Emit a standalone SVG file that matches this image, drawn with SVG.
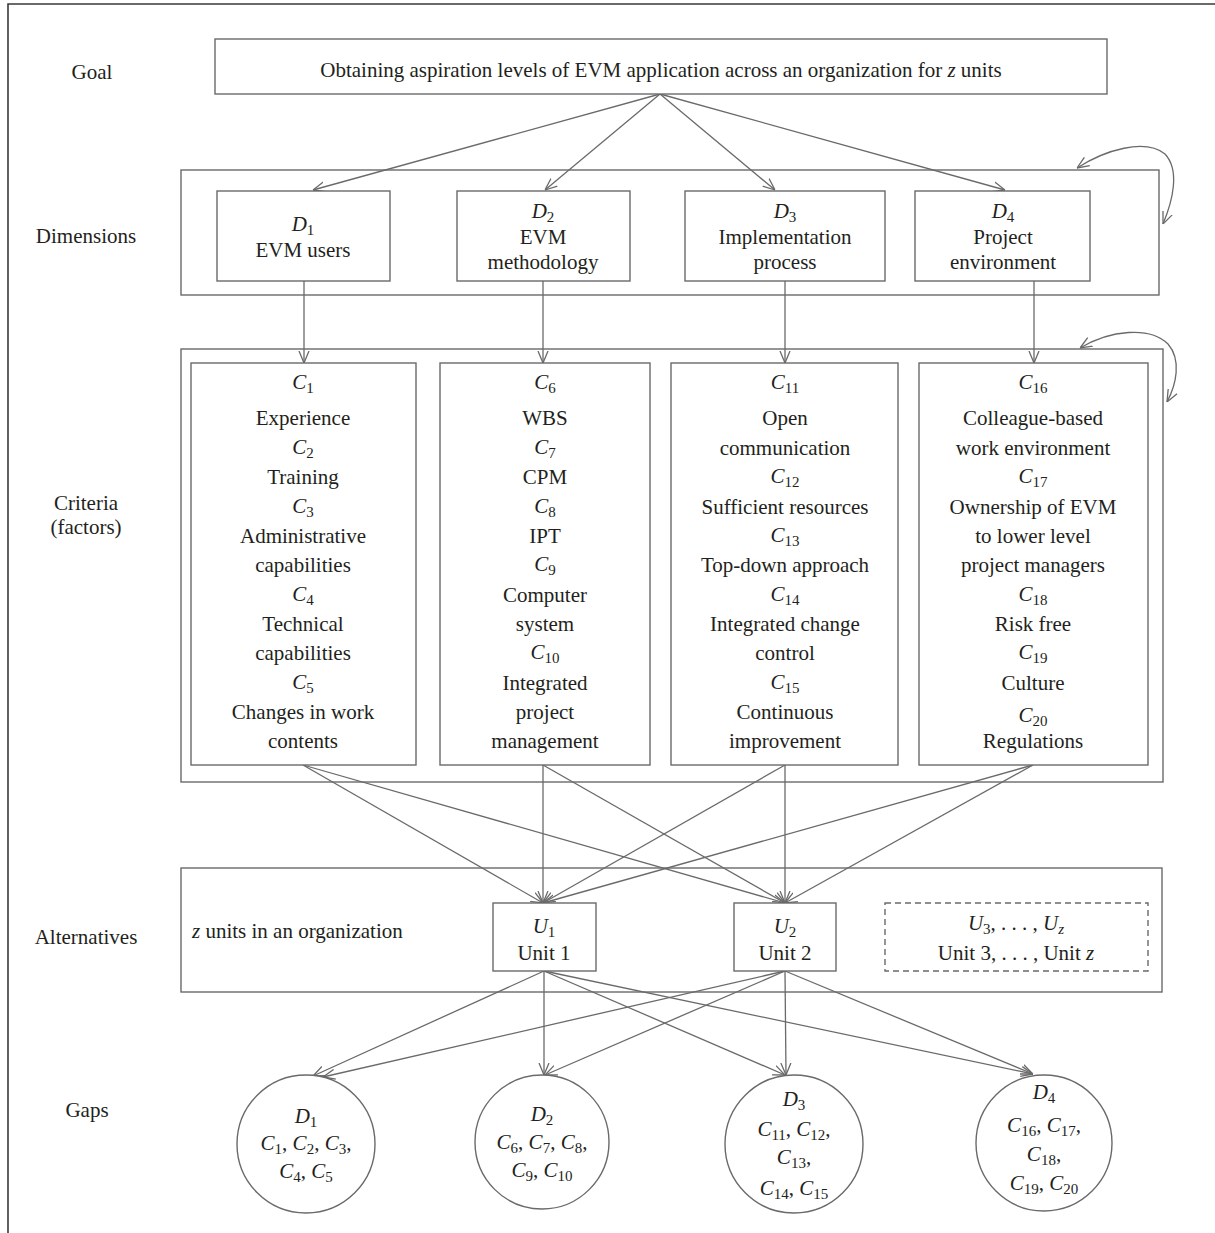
<svg xmlns="http://www.w3.org/2000/svg" width="1215" height="1233" viewBox="0 0 1215 1233">
<style>
text{font-family:"Liberation Serif","Times New Roman",serif;font-size:21px;fill:#231f20;text-anchor:middle}
.l{text-anchor:start}
.i{font-style:italic}
.s{font-size:15px}
.b{fill:#fff;stroke:#6a6a6a;stroke-width:1.4}
.n{fill:none;stroke:#6a6a6a;stroke-width:1.4}
.c{fill:none;stroke:#6a6a6a;stroke-width:1.3;marker-end:url(#ah)}
</style>
<defs>
<marker id="ah" viewBox="0 0 12 12" refX="12" refY="6" markerWidth="12" markerHeight="12" markerUnits="userSpaceOnUse" orient="auto-start-reverse">
<path d="M0,1 L12,6 L0,11" fill="none" stroke="#6a6a6a" stroke-width="1.3"/>
</marker>
</defs>
<rect width="1215" height="1233" fill="#fff"/>
<path d="M8,1233 V4 H1215" fill="none" stroke="#3a3a3a" stroke-width="1.6"/>

<g id="labels">
<text x="92" y="79">Goal</text>
<text x="86" y="243">Dimensions</text>
<text x="86" y="510">Criteria</text>
<text x="86" y="534">(factors)</text>
<text x="86" y="944">Alternatives</text>
<text x="87" y="1117">Gaps</text>
</g>

<g id="containers">
<rect class="n" x="181" y="170" width="978" height="125"/>
<rect class="n" x="181" y="349" width="982" height="433"/>
<rect class="n" x="181" y="868" width="981" height="124"/>
</g>

<g id="connectors">
<path class="c" d="M660,94 L313,190"/>
<path class="c" d="M660,94 L545,190"/>
<path class="c" d="M660,94 L775,190"/>
<path class="c" d="M660,94 L1005,190"/>
<path class="c" style="marker-start:url(#ah)" d="M1077,168 C1105,150 1145,138 1165,154 C1180,170 1173,200 1163,224"/>
<path class="c" style="marker-start:url(#ah)" d="M1080,348 C1110,330 1150,326 1168,344 C1182,360 1176,385 1167,402"/>
<path class="c" d="M304,281 V363"/>
<path class="c" d="M543,281 V363"/>
<path class="c" d="M785,281 V363"/>
<path class="c" d="M1034,281 V363"/>
<path class="c" d="M303,765 L543,903"/>
<path class="c" d="M303,765 L785,903"/>
<path class="c" d="M543,765 L543,903"/>
<path class="c" d="M543,765 L785,903"/>
<path class="c" d="M785,765 L785,903"/>
<path class="c" d="M785,765 L543,903"/>
<path class="c" d="M1033,765 L543,903"/>
<path class="c" d="M1033,765 L785,903"/>
<path class="c" d="M544,971 L313,1076"/>
<path class="c" d="M785,971 L323,1077"/>
<path class="c" d="M544,971 L544,1075"/>
<path class="c" d="M785,971 L545,1075"/>
<path class="c" d="M544,971 L785,1075"/>
<path class="c" d="M785,971 L786,1075"/>
<path class="c" d="M544,971 L1033,1074"/>
<path class="c" d="M785,971 L1033,1074"/>
</g>

<g id="goal">
<rect class="b" x="215" y="39" width="892" height="55"/>
<text x="661" y="77">Obtaining aspiration levels of EVM application across an organization for <tspan class="i">z</tspan> units</text>
</g>

<g id="d1">
<rect class="b" x="217" y="191" width="173" height="90"/>
<text x="303" y="231"><tspan class="i">D</tspan><tspan class="s" dy="4">1</tspan></text>
<text x="303" y="257">EVM users</text>
</g>
<g id="d2">
<rect class="b" x="457" y="191" width="173" height="90"/>
<text x="543" y="218"><tspan class="i">D</tspan><tspan class="s" dy="4">2</tspan></text>
<text x="543" y="244">EVM</text>
<text x="543" y="269">methodology</text>
</g>
<g id="d3">
<rect class="b" x="685" y="191" width="200" height="90"/>
<text x="785" y="218"><tspan class="i">D</tspan><tspan class="s" dy="4">3</tspan></text>
<text x="785" y="244">Implementation</text>
<text x="785" y="269">process</text>
</g>
<g id="d4">
<rect class="b" x="915" y="191" width="175" height="90"/>
<text x="1003" y="218"><tspan class="i">D</tspan><tspan class="s" dy="4">4</tspan></text>
<text x="1003" y="244">Project</text>
<text x="1003" y="269">environment</text>
</g>

<g id="c1">
<rect class="b" x="191" y="363" width="225" height="402"/>
<text x="303" y="389"><tspan class="i">C</tspan><tspan class="s" dy="4">1</tspan></text>
<text x="303" y="425">Experience</text>
<text x="303" y="454"><tspan class="i">C</tspan><tspan class="s" dy="4">2</tspan></text>
<text x="303" y="484">Training</text>
<text x="303" y="513"><tspan class="i">C</tspan><tspan class="s" dy="4">3</tspan></text>
<text x="303" y="543">Administrative</text>
<text x="303" y="572">capabilities</text>
<text x="303" y="601"><tspan class="i">C</tspan><tspan class="s" dy="4">4</tspan></text>
<text x="303" y="631">Technical</text>
<text x="303" y="660">capabilities</text>
<text x="303" y="689"><tspan class="i">C</tspan><tspan class="s" dy="4">5</tspan></text>
<text x="303" y="719">Changes in work</text>
<text x="303" y="748">contents</text>
</g>
<g id="c2">
<rect class="b" x="440" y="363" width="210" height="402"/>
<text x="545" y="389"><tspan class="i">C</tspan><tspan class="s" dy="4">6</tspan></text>
<text x="545" y="425">WBS</text>
<text x="545" y="454"><tspan class="i">C</tspan><tspan class="s" dy="4">7</tspan></text>
<text x="545" y="484">CPM</text>
<text x="545" y="513"><tspan class="i">C</tspan><tspan class="s" dy="4">8</tspan></text>
<text x="545" y="543">IPT</text>
<text x="545" y="571"><tspan class="i">C</tspan><tspan class="s" dy="4">9</tspan></text>
<text x="545" y="602">Computer</text>
<text x="545" y="631">system</text>
<text x="545" y="659"><tspan class="i">C</tspan><tspan class="s" dy="4">10</tspan></text>
<text x="545" y="690">Integrated</text>
<text x="545" y="719">project</text>
<text x="545" y="748">management</text>
</g>
<g id="c3">
<rect class="b" x="671" y="363" width="227" height="402"/>
<text x="785" y="389"><tspan class="i">C</tspan><tspan class="s" dy="4">11</tspan></text>
<text x="785" y="425">Open</text>
<text x="785" y="455">communication</text>
<text x="785" y="483"><tspan class="i">C</tspan><tspan class="s" dy="4">12</tspan></text>
<text x="785" y="514">Sufficient resources</text>
<text x="785" y="542"><tspan class="i">C</tspan><tspan class="s" dy="4">13</tspan></text>
<text x="785" y="572">Top-down approach</text>
<text x="785" y="601"><tspan class="i">C</tspan><tspan class="s" dy="4">14</tspan></text>
<text x="785" y="631">Integrated change</text>
<text x="785" y="660">control</text>
<text x="785" y="689"><tspan class="i">C</tspan><tspan class="s" dy="4">15</tspan></text>
<text x="785" y="719">Continuous</text>
<text x="785" y="748">improvement</text>
</g>
<g id="c4">
<rect class="b" x="919" y="363" width="229" height="402"/>
<text x="1033" y="389"><tspan class="i">C</tspan><tspan class="s" dy="4">16</tspan></text>
<text x="1033" y="425">Colleague-based</text>
<text x="1033" y="455">work environment</text>
<text x="1033" y="483"><tspan class="i">C</tspan><tspan class="s" dy="4">17</tspan></text>
<text x="1033" y="514">Ownership of EVM</text>
<text x="1033" y="543">to lower level</text>
<text x="1033" y="572">project managers</text>
<text x="1033" y="601"><tspan class="i">C</tspan><tspan class="s" dy="4">18</tspan></text>
<text x="1033" y="631">Risk free</text>
<text x="1033" y="659"><tspan class="i">C</tspan><tspan class="s" dy="4">19</tspan></text>
<text x="1033" y="690">Culture</text>
<text x="1033" y="722"><tspan class="i">C</tspan><tspan class="s" dy="4">20</tspan></text>
<text x="1033" y="748">Regulations</text>
</g>

<g id="alt-label">
<text class="l" x="192" y="938"><tspan class="i">z</tspan> units in an organization</text>
</g>
<g id="u1">
<rect class="b" x="493" y="903" width="103" height="68"/>
<text x="544" y="933"><tspan class="i">U</tspan><tspan class="s" dy="4">1</tspan></text>
<text x="544" y="960">Unit 1</text>
</g>
<g id="u2">
<rect class="b" x="734" y="903" width="102" height="68"/>
<text x="785" y="933"><tspan class="i">U</tspan><tspan class="s" dy="4">2</tspan></text>
<text x="785" y="960">Unit 2</text>
</g>
<g id="u3z">
<rect class="n" x="885" y="903" width="263" height="68" stroke-dasharray="6,4"/>
<text x="1016" y="930"><tspan class="i">U</tspan><tspan class="s" dy="4">3</tspan><tspan dy="-4">, . . . , </tspan><tspan class="i">U</tspan><tspan class="s i" dy="4">z</tspan></text>
<text x="1016" y="960">Unit 3, . . . , Unit <tspan class="i">z</tspan></text>
</g>

<g id="gap1">
<circle class="b" cx="306" cy="1144" r="69"/>
<text x="306" y="1123"><tspan class="i">D</tspan><tspan class="s" dy="4">1</tspan></text>
<text x="306" y="1150"><tspan class="i">C</tspan><tspan class="s" dy="4">1</tspan><tspan dy="-4">, </tspan><tspan class="i">C</tspan><tspan class="s" dy="4">2</tspan><tspan dy="-4">, </tspan><tspan class="i">C</tspan><tspan class="s" dy="4">3</tspan><tspan dy="-4">,</tspan></text>
<text x="306" y="1178"><tspan class="i">C</tspan><tspan class="s" dy="4">4</tspan><tspan dy="-4">, </tspan><tspan class="i">C</tspan><tspan class="s" dy="4">5</tspan></text>
</g>
<g id="gap2">
<circle class="b" cx="542" cy="1142" r="67"/>
<text x="542" y="1121"><tspan class="i">D</tspan><tspan class="s" dy="4">2</tspan></text>
<text x="542" y="1149"><tspan class="i">C</tspan><tspan class="s" dy="4">6</tspan><tspan dy="-4">, </tspan><tspan class="i">C</tspan><tspan class="s" dy="4">7</tspan><tspan dy="-4">, </tspan><tspan class="i">C</tspan><tspan class="s" dy="4">8</tspan><tspan dy="-4">,</tspan></text>
<text x="542" y="1177"><tspan class="i">C</tspan><tspan class="s" dy="4">9</tspan><tspan dy="-4">, </tspan><tspan class="i">C</tspan><tspan class="s" dy="4">10</tspan></text>
</g>
<g id="gap3">
<circle class="b" cx="794" cy="1144" r="69"/>
<text x="794" y="1106"><tspan class="i">D</tspan><tspan class="s" dy="4">3</tspan></text>
<text x="794" y="1136"><tspan class="i">C</tspan><tspan class="s" dy="4">11</tspan><tspan dy="-4">, </tspan><tspan class="i">C</tspan><tspan class="s" dy="4">12</tspan><tspan dy="-4">,</tspan></text>
<text x="794" y="1164"><tspan class="i">C</tspan><tspan class="s" dy="4">13</tspan><tspan dy="-4">,</tspan></text>
<text x="794" y="1195"><tspan class="i">C</tspan><tspan class="s" dy="4">14</tspan><tspan dy="-4">, </tspan><tspan class="i">C</tspan><tspan class="s" dy="4">15</tspan></text>
</g>
<g id="gap4">
<circle class="b" cx="1044" cy="1143" r="68"/>
<text x="1044" y="1099"><tspan class="i">D</tspan><tspan class="s" dy="4">4</tspan></text>
<text x="1044" y="1132"><tspan class="i">C</tspan><tspan class="s" dy="4">16</tspan><tspan dy="-4">, </tspan><tspan class="i">C</tspan><tspan class="s" dy="4">17</tspan><tspan dy="-4">,</tspan></text>
<text x="1044" y="1161"><tspan class="i">C</tspan><tspan class="s" dy="4">18</tspan><tspan dy="-4">,</tspan></text>
<text x="1044" y="1190"><tspan class="i">C</tspan><tspan class="s" dy="4">19</tspan><tspan dy="-4">, </tspan><tspan class="i">C</tspan><tspan class="s" dy="4">20</tspan></text>
</g>
</svg>
